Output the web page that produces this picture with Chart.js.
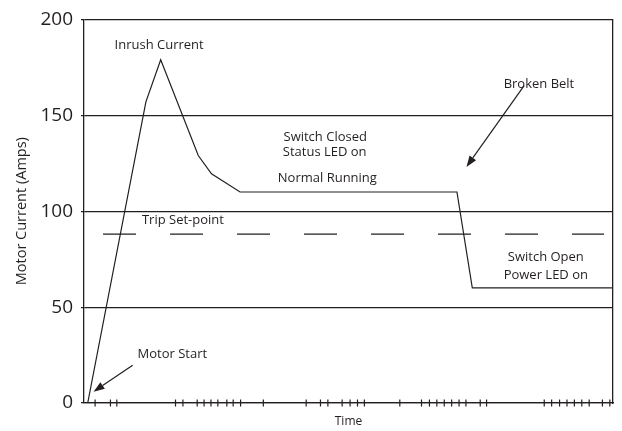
<!DOCTYPE html>
<html>
<head>
<meta charset="utf-8">
<script src="https://cdn.jsdelivr.net/npm/chart.js@4.4.0/dist/chart.umd.min.js"></script>
<style>
  html, body { margin: 0; padding: 0; background: #fff; }
</style>
</head>
<body>
<canvas id="chart" width="622" height="431"></canvas>
<script>
const INK = '#231f20';
const FONT = '"Open Sans", "Liberation Sans", sans-serif';

// motor current trace (time units 0-100, amps)
const traceTimes = [0.7, 11.7, 14.5, 21.6, 24.1, 29.5, 70.5, 73.4, 99.8];
const traceAmps = [0, 157, 179, 129, 119.5, 110, 110, 60, 60];

// trip set-point
const tripTimes = [3.6, 98.3];
const tripAmps = 88;

// irregular time tick marks on the x axis
const timeTicks = [2.1, 5.0, 6.2, 17.3, 18.7, 21.4, 22.7, 24.0, 25.3, 27.0, 28.2, 29.6,
  33.9, 42.0, 44.7, 46.1, 48.8, 50.3, 51.7, 53.0, 59.7, 63.8, 65.3, 66.7, 68.1, 69.5,
  70.9, 72.2, 74.9, 76.1, 87.0, 88.4, 89.9, 91.3, 92.7, 94.1, 95.5, 98.0, 99.4];

const yTicks = [0, 50, 100, 150, 200];

// annotations
const noteTexts = ['Inrush Current', 'Switch Closed', 'Status LED on', 'Normal Running',
  'Broken Belt', 'Trip Set-point', 'Motor Start', 'Switch Open', 'Power LED on'];
const noteTimes = [14.2, 45.6, 45.5, 46.0, 86.0, 18.7, 16.7, 87.3, 87.3];
const noteAmps = [186.5, 138.7, 130.5, 117.4, 166.2, 95.1, 25.5, 75.8, 66.5];

const arrowFromTimes = [83.2, 9.2];
const arrowFromAmps = [165.5, 19.7];
const arrowToTimes = [72.3, 1.8];
const arrowToAmps = [123.1, 5.9];

const notesPlugin = {
  id: 'notes',
  afterDatasetsDraw(chart) {
    const {ctx, scales: {x, y}} = chart;
    ctx.save();
    ctx.fillStyle = INK;
    ctx.strokeStyle = INK;
    ctx.font = '13px ' + FONT;
    ctx.textAlign = 'center';
    ctx.textBaseline = 'middle';
    noteTexts.forEach((t, i) => {
      ctx.fillText(t, x.getPixelForValue(noteTimes[i]), y.getPixelForValue(noteAmps[i]));
    });

    ctx.lineWidth = 1.2;
    arrowFromTimes.forEach((t, i) => {
      const x1 = x.getPixelForValue(t), y1 = y.getPixelForValue(arrowFromAmps[i]);
      const x2 = x.getPixelForValue(arrowToTimes[i]), y2 = y.getPixelForValue(arrowToAmps[i]);
      const a = Math.atan2(y2 - y1, x2 - x1);
      const len = 11, half = 4;
      const bx = x2 - len * Math.cos(a), by = y2 - len * Math.sin(a);
      ctx.beginPath();
      ctx.moveTo(x1, y1);
      ctx.lineTo(bx, by);
      ctx.stroke();
      ctx.beginPath();
      ctx.moveTo(x2, y2);
      ctx.lineTo(bx + half * Math.sin(a), by - half * Math.cos(a));
      ctx.lineTo(bx - half * Math.sin(a), by + half * Math.cos(a));
      ctx.closePath();
      ctx.fill();
    });
    ctx.restore();
  }
};

new Chart(document.getElementById('chart'), {
  type: 'line',
  data: {
    datasets: [
      {
        data: traceTimes.map((t, i) => ({x: t, y: traceAmps[i]})),
        borderColor: INK,
        borderWidth: 1.2,
        pointRadius: 0,
        tension: 0,
      },
      {
        data: tripTimes.map(t => ({x: t, y: tripAmps})),
        borderColor: INK,
        borderWidth: 1.2,
        borderDash: [33, 34],
        pointRadius: 0,
      },
      {
        data: timeTicks.map(t => ({x: t, y: 0})),
        showLine: false,
        pointStyle: 'line',
        pointRotation: 90,
        pointRadius: 3.5,
        pointBorderWidth: 1.2,
        pointBorderColor: INK,
        clip: false,
      },
    ],
  },
  options: {
    responsive: false,
    animation: false,
    layout: { padding: { top: 18, right: 9, left: 0, bottom: 0 } },
    plugins: { legend: { display: false }, tooltip: { enabled: false } },
    scales: {
      x: {
        type: 'linear',
        min: 0,
        max: 100,
        ticks: { display: false },
        grid: { drawOnChartArea: false, drawTicks: false },
        border: { color: INK, width: 1.3 },
        title: { display: true, text: 'Time', color: INK, font: { family: FONT, size: 12 }, padding: { top: 0, bottom: 2 } },
        afterFit: s => { s.height = 28; },
      },
      y: {
        min: 0,
        max: 200,
        afterBuildTicks: s => { s.ticks = yTicks.map(v => ({value: v})); },
        ticks: { color: INK, padding: 8, font: { family: FONT, size: 19 } },
        grid: { color: INK, lineWidth: 1.2, tickLength: 3 },
        border: { color: INK, width: 1.3 },
        title: { display: true, text: 'Motor Current (Amps)', color: INK, font: { family: FONT, size: 14.5 }, padding: { top: 13, bottom: 0 } },
        afterFit: s => { s.width = 84; },
      },
      y2: {
        position: 'right',
        min: 0,
        max: 200,
        ticks: { display: false },
        grid: { drawOnChartArea: false, drawTicks: false },
        border: { color: INK, width: 1.3 },
        afterFit: s => { s.width = 0; },
      },
    },
  },
  plugins: [notesPlugin],
});
</script>
</body>
</html>
